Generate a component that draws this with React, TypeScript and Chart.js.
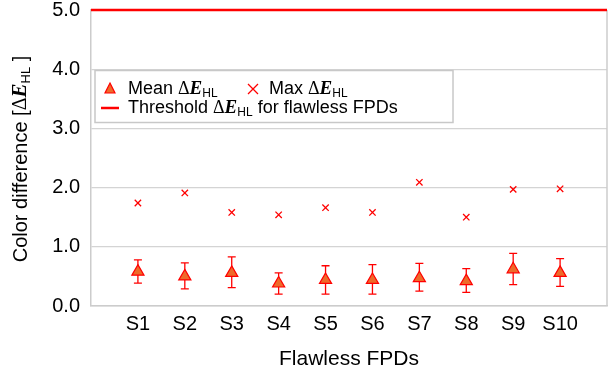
import React, { useEffect, useRef } from "react";
import { Chart, registerables } from "chart.js";

Chart.register(...registerables);

const categories = ["S1", "S2", "S3", "S4", "S5", "S6", "S7", "S8", "S9", "S10"];
const meanValues = [0.58, 0.5, 0.56, 0.38, 0.44, 0.44, 0.47, 0.42, 0.62, 0.56];
const errHigh = [0.78, 0.73, 0.83, 0.56, 0.68, 0.7, 0.72, 0.63, 0.89, 0.8];
const errLow = [0.385, 0.29, 0.31, 0.2, 0.2, 0.2, 0.25, 0.23, 0.36, 0.33];
const maxValues = [1.74, 1.91, 1.58, 1.54, 1.66, 1.58, 2.09, 1.5, 1.97, 1.98];
const threshold = 5.0;
const yTicks = [0, 1, 2, 3, 4, 5];

const SANS = "'Liberation Sans', Arial, sans-serif";
const SERIF = "'Liberation Serif', 'Times New Roman', serif";

type Part = { t: string; font: string; dy?: number };

function partsWidth(ctx: CanvasRenderingContext2D, parts: Part[]) {
  let w = 0;
  for (const p of parts) {
    ctx.font = p.font;
    w += ctx.measureText(p.t).width;
  }
  return w;
}

function drawParts(ctx: CanvasRenderingContext2D, x: number, y: number, parts: Part[]) {
  let cx = x;
  for (const p of parts) {
    ctx.font = p.font;
    ctx.fillText(p.t, cx, y + (p.dy || 0));
    cx += ctx.measureText(p.t).width;
  }
}

function deltaE(size: number, subSize: number, subDy: number): Part[] {
  return [
    { t: "\u0394", font: `${size}px ${SERIF}` },
    { t: "E", font: `italic bold ${size + 1}px ${SERIF}` },
    { t: "HL", font: `${subSize}px ${SANS}`, dy: subDy },
  ];
}

const customDraw = {
  id: "customDraw",
  beforeDatasetsDraw(chart: any) {
    const ctx = chart.ctx as CanvasRenderingContext2D;
    const xs = chart.scales.x;
    const ys = chart.scales.y;
    const area = chart.chartArea;
    ctx.save();
    // right border
    ctx.strokeStyle = "#cccccc";
    ctx.lineWidth = 1.5;
    ctx.beginPath();
    ctx.moveTo(area.right, area.top);
    ctx.lineTo(area.right, area.bottom);
    ctx.stroke();
    // error bars
    ctx.strokeStyle = "#ff0000";
    ctx.lineWidth = 1.3;
    for (let i = 0; i < categories.length; i++) {
      const px = xs.getPixelForValue(i + 1);
      const yTop = ys.getPixelForValue(errHigh[i]);
      const yBot = ys.getPixelForValue(errLow[i]);
      ctx.beginPath();
      ctx.moveTo(px, yTop);
      ctx.lineTo(px, yBot);
      ctx.moveTo(px - 4, yTop);
      ctx.lineTo(px + 4, yTop);
      ctx.moveTo(px - 4, yBot);
      ctx.lineTo(px + 4, yBot);
      ctx.stroke();
    }
    ctx.restore();
  },
  afterDraw(chart: any) {
    const ctx = chart.ctx as CanvasRenderingContext2D;
    const area = chart.chartArea;
    ctx.save();
    ctx.fillStyle = "#000";
    ctx.textBaseline = "middle";

    // x-axis title
    ctx.font = `21px ${SANS}`;
    ctx.textAlign = "center";
    ctx.fillText("Flawless FPDs", (area.left + area.right) / 2, 359);

    // y-axis title
    ctx.textAlign = "left";
    const yParts: Part[] = [
      { t: "Color difference [", font: `20px ${SANS}` },
      ...deltaE(20, 13, 5),
      { t: " ]", font: `20px ${SANS}` },
    ];
    const yw = partsWidth(ctx, yParts);
    ctx.save();
    ctx.translate(21, 159);
    ctx.rotate(-Math.PI / 2);
    drawParts(ctx, -yw / 2, 0, yParts);
    ctx.restore();

    // legend box
    const lx = 95, ly = 70.5, lw = 358, lh = 52;
    ctx.fillStyle = "#ffffff";
    ctx.fillRect(lx, ly, lw, lh);
    ctx.strokeStyle = "#c8c8c8";
    ctx.lineWidth = 1.5;
    ctx.strokeRect(lx, ly, lw, lh);

    const r1 = 89;
    const r2 = 108;
    // row 1: mean triangle
    ctx.fillStyle = "#ee6a2a";
    ctx.strokeStyle = "#ff0000";
    ctx.lineWidth = 1.2;
    ctx.beginPath();
    ctx.moveTo(110, r1 - 6);
    ctx.lineTo(115, r1 + 4);
    ctx.lineTo(105, r1 + 4);
    ctx.closePath();
    ctx.fill();
    ctx.stroke();
    ctx.fillStyle = "#000";
    drawParts(ctx, 128, r1, [{ t: "Mean ", font: `18px ${SANS}` }, ...deltaE(18, 12, 5)]);

    // max cross
    ctx.strokeStyle = "#ff0000";
    ctx.lineWidth = 1.3;
    ctx.beginPath();
    ctx.moveTo(248, r1 - 5);
    ctx.lineTo(258, r1 + 5);
    ctx.moveTo(258, r1 - 5);
    ctx.lineTo(248, r1 + 5);
    ctx.stroke();
    drawParts(ctx, 269, r1, [{ t: "Max ", font: `18px ${SANS}` }, ...deltaE(18, 12, 5)]);

    // row 2: threshold line
    ctx.strokeStyle = "#ff0000";
    ctx.lineWidth = 2.5;
    ctx.beginPath();
    ctx.moveTo(101, r2);
    ctx.lineTo(119, r2);
    ctx.stroke();
    drawParts(ctx, 128, r2, [
      { t: "Threshold ", font: `18px ${SANS}` },
      ...deltaE(18, 12, 5),
      { t: " for flawless FPDs", font: `18px ${SANS}` },
    ]);

    ctx.restore();
  },
};

export default function App() {
  const ref = useRef<HTMLCanvasElement | null>(null);
  useEffect(() => {
    if (!ref.current) return;
    const chart = new Chart(ref.current, {
      type: "scatter",
      data: {
        datasets: [
          {
            label: "Threshold",
            type: "line",
            data: [
              { x: 0, y: threshold },
              { x: categories.length + 1, y: threshold },
            ],
            borderColor: "#ff0000",
            borderWidth: 2.5,
            pointRadius: 0,
            clip: false as any,
          },
          {
            label: "Max",
            data: maxValues.map((v, i) => ({ x: i + 1, y: v })),
            pointStyle: "crossRot",
            pointRadius: 4.5,
            borderColor: "#ff0000",
            borderWidth: 1.3,
            backgroundColor: "#ff0000",
          },
          {
            label: "Mean",
            data: meanValues.map((v, i) => ({ x: i + 1, y: v })),
            pointStyle: "triangle",
            pointRadius: 7,
            borderColor: "#ff0000",
            borderWidth: 1.2,
            backgroundColor: "#ee6a2a",
          },
        ],
      },
      options: {
        responsive: false,
        animation: false,
        events: [],
        layout: { padding: { top: 0, right: 9, left: 0, bottom: 0 } },
        plugins: { legend: { display: false }, tooltip: { enabled: false } },
        scales: {
          x: {
            type: "linear",
            min: 0,
            max: categories.length + 1,
            afterBuildTicks: (s: any) => {
              s.ticks = categories.map((_, i) => ({ value: i + 1 }));
            },
            afterFit: (s: any) => {
              s.height = 64;
            },
            ticks: {
              autoSkip: false,
              maxRotation: 0,
              padding: 6,
              color: "#000",
              font: { family: SANS, size: 20 },
              callback: (v: any) => categories[Number(v) - 1] ?? "",
            },
            grid: { display: false, drawTicks: false },
            border: { color: "#cccccc", width: 1.5 },
          },
          y: {
            min: 0,
            max: 5,
            afterBuildTicks: (s: any) => {
              s.ticks = yTicks.map((v) => ({ value: v }));
            },
            afterFit: (s: any) => {
              s.width = 91;
            },
            ticks: {
              padding: 0,
              color: "#000",
              font: { family: SANS, size: 20, lineHeight: 1 },
              callback: (v: any) => Number(v).toFixed(1),
            },
            grid: {
              color: "#d4d4d4",
              lineWidth: 1.3,
              drawTicks: true,
              tickLength: 11,
              tickColor: "rgba(0,0,0,0)",
            },
            border: { color: "#cccccc", width: 1.5 },
          },
        },
      },
      plugins: [customDraw],
    } as any);
    return () => chart.destroy();
  }, []);
  return (
    <div style={{ position: "absolute", left: 0, top: 0, width: 616, height: 370, background: "#fff" }}>
      <canvas ref={ref} width={616} height={370} style={{ width: 616, height: 370 }} />
    </div>
  );
}
